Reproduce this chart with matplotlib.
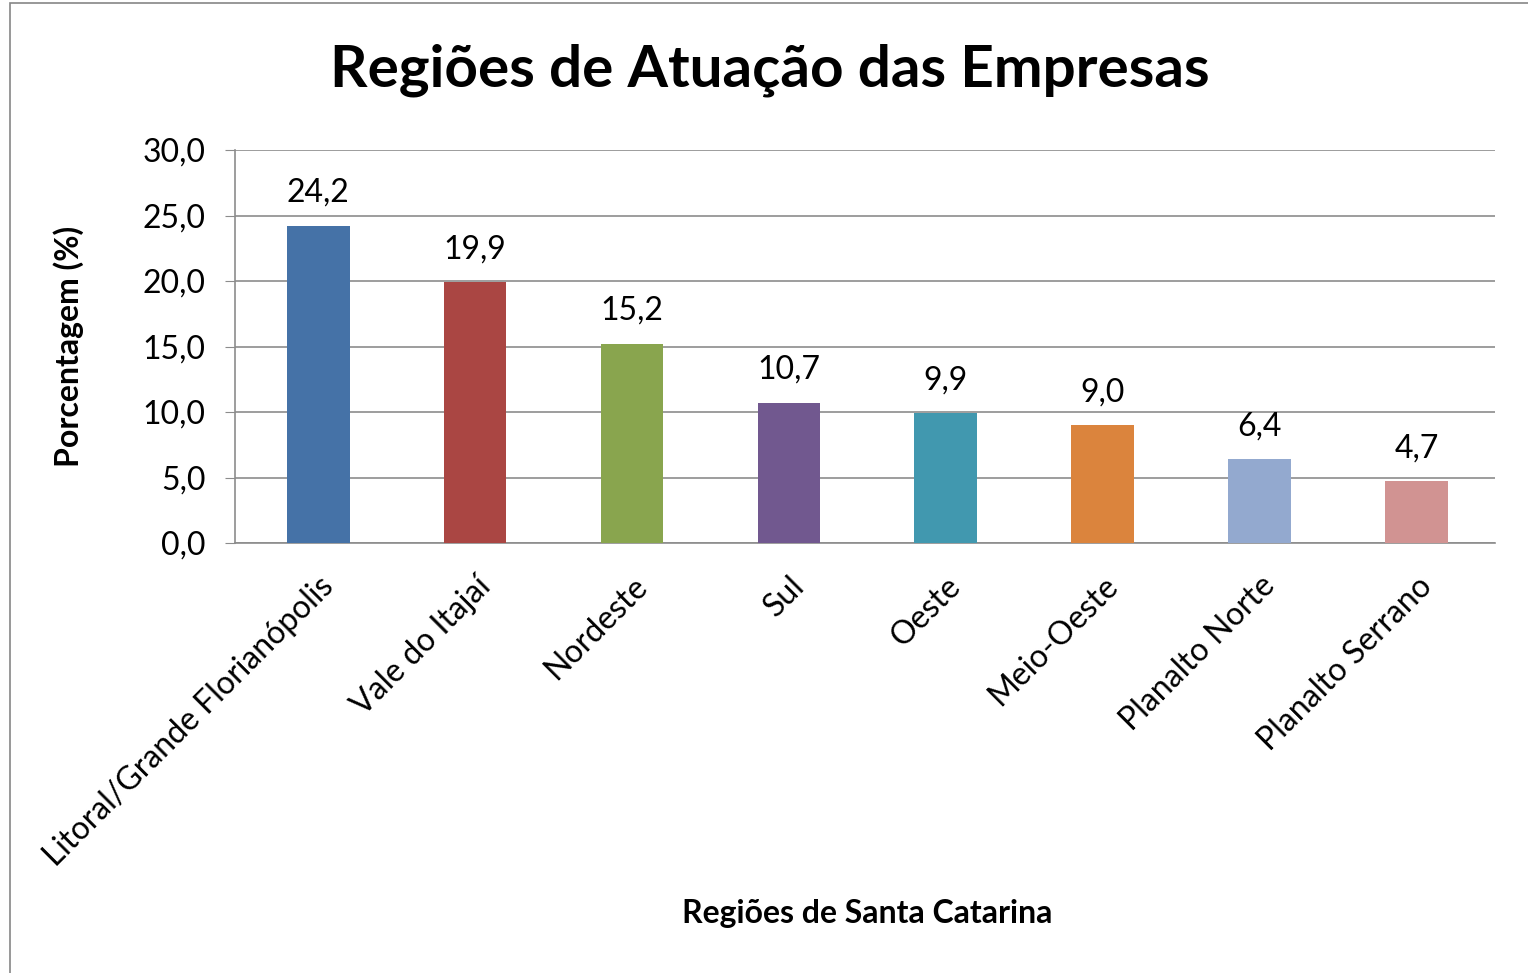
import matplotlib
matplotlib.use("Agg")
import matplotlib.pyplot as plt
from matplotlib.patches import Rectangle

regioes = ["Litoral/Grande Florianópolis", "Vale do Itajaí", "Nordeste", "Sul",
           "Oeste", "Meio-Oeste", "Planalto Norte", "Planalto Serrano"]
valores = [24.2, 19.9, 15.2, 10.7, 9.9, 9.0, 6.4, 4.7]
cores = ["#4572A7", "#AA4643", "#89A54E", "#71588F",
         "#4198AF", "#DB843D", "#93A9CF", "#D19392"]
yticks = [0, 5, 10, 15, 20, 25, 30]

plt.rcParams['font.family'] = ['Lato', 'DejaVu Sans']

fig = plt.figure(figsize=(15.28, 9.73), dpi=100)
ax = fig.add_axes([235 / 1528, 1 - 543 / 973, 1260 / 1528, 393 / 973])

# moldura do gráfico
fig.patches.append(Rectangle((10 / 1528, -0.05), 1.1, 0.05 + 1 - 3 / 973,
                             transform=fig.transFigure, fill=False,
                             edgecolor="#868686", linewidth=1.2))

x = list(range(len(regioes)))
ax.bar(x, valores, width=0.4, color=cores, zorder=3)
for xi, v in zip(x, valores):
    ax.annotate(f"{v:.1f}".replace(".", ","), (xi, v), xytext=(0, 13),
                textcoords="offset points", ha="center", va="bottom", fontsize=23)

ax.set_xlim(-0.53, len(regioes) - 0.5)
ax.set_ylim(0, 30)
ax.set_yticks(yticks)
ax.set_yticklabels([f"{t:.1f}".replace(".", ",") for t in yticks], fontsize=23)
ax.yaxis.grid(True, color="#8c8c8c", linewidth=1.2, zorder=0)
ax.tick_params(axis="y", length=7, color="#8c8c8c", pad=14)
ax.tick_params(axis="x", length=0, pad=20)
ax.set_xticks(x)
ax.set_xticklabels(regioes, rotation=45, ha="right", rotation_mode="anchor",
                   fontsize=23)
for s in ["top", "right"]:
    ax.spines[s].set_visible(False)
for s in ["left", "bottom"]:
    ax.spines[s].set_color("#8c8c8c")
    ax.spines[s].set_linewidth(1.2)

ax.set_ylabel("Porcentagem (%)", fontsize=23, fontweight="bold", labelpad=42)
fig.text(867 / 1528, 1 - 913 / 973, "Regiões de Santa Catarina", fontsize=23,
         fontweight="bold", ha="center", va="center")
fig.text(770 / 1528, 1 - 70 / 973, "Regiões de Atuação das Empresas", fontsize=42,
         fontweight="bold", ha="center", va="center")

fig.savefig("out.png", dpi=100)
